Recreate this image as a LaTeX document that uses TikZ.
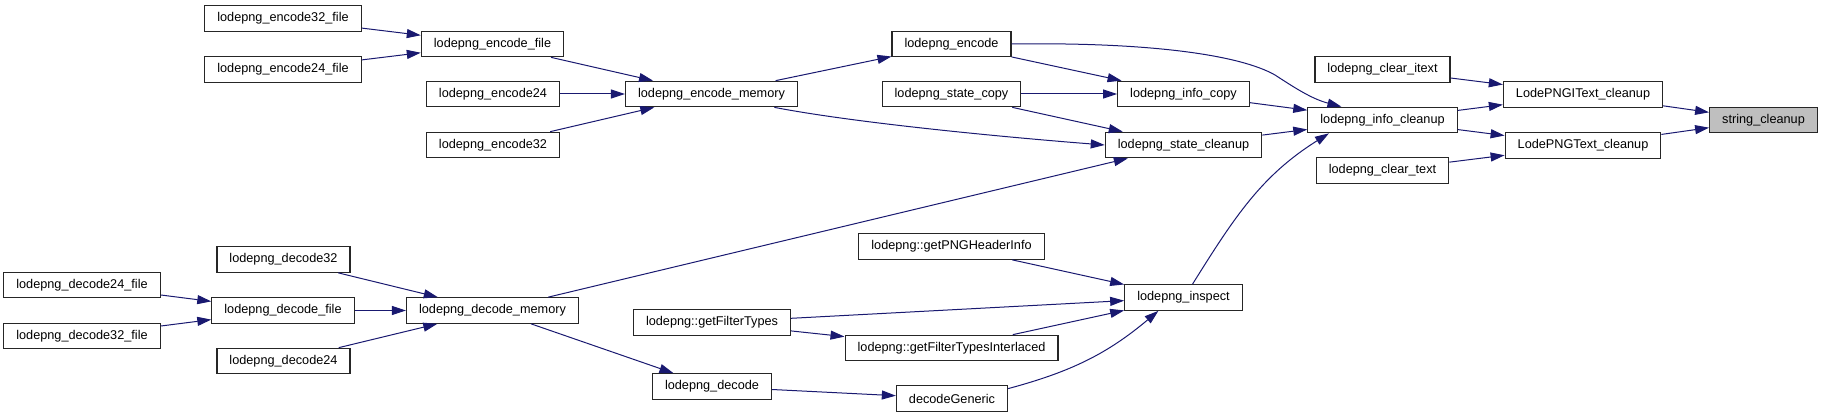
\documentclass[tikz,border=0pt]{standalone}
\usepackage{fontspec}
\setmainfont{Liberation Sans}
\usepackage{tikz}
\usetikzlibrary{
  arrows.meta
}

\definecolor{edgeblue}{HTML}{191970}
\definecolor{hilite}{HTML}{BFBFBF}

\begin{document}
\begin{tikzpicture}[x=0.5pt,y=-0.5pt,
  fn/.style={draw=black!85,line width=0.6pt,fill=white,rectangle,
    minimum height=12.75pt,inner xsep=6.25pt,inner ysep=0pt,
    font=\fontsize{6.35}{7.6}\selectfont},
  edge/.style={draw=edgeblue,line width=0.5pt,
    -{Triangle[length=7pt,width=4.5pt]}}]

  \useasboundingbox (0,0) rectangle (1823,417);

  % encode side
  \node[fn] (e32f)  at (283,18.5)  {lodepng\_encode32\_file};
  \node[fn] (e24f)  at (283,69.5)  {lodepng\_encode24\_file};
  \node[fn] (efile) at (492.5,44)  {lodepng\_encode\_file};
  \node[fn] (e24)   at (493,94)    {lodepng\_encode24};
  \node[fn] (e32)   at (493,145)   {lodepng\_encode32};
  \node[fn] (emem)  at (711.5,94)  {lodepng\_encode\_memory};
  \node[fn] (enc)   at (951.5,44)  {lodepng\_encode};
  \node[fn] (scopy) at (951.5,94)  {lodepng\_state\_copy};

  % cleanup chain
  \node[fn] (icopy)   at (1183.5,94)   {lodepng\_info\_copy};
  \node[fn] (sclean)  at (1183.5,145)  {lodepng\_state\_cleanup};
  \node[fn] (citext)  at (1382.5,69.5) {lodepng\_clear\_itext};
  \node[fn] (iclean)  at (1382.5,120)  {lodepng\_info\_cleanup};
  \node[fn] (ctext)   at (1382.5,170.5) {lodepng\_clear\_text};
  \node[fn] (itclean) at (1583,94.5)   {LodePNGIText\_cleanup};
  \node[fn] (tclean)  at (1583,145.5)  {LodePNGText\_cleanup};
  \node[fn,fill=hilite] (strclean) at (1763.5,120) {string\_cleanup};

  % decode side
  \node[fn] (d32)      at (283.5,259.5) {lodepng\_decode32};
  \node[fn] (d24f)     at (82,285)      {lodepng\_decode24\_file};
  \node[fn] (dfile)    at (283,310.5)   {lodepng\_decode\_file};
  \node[fn] (d32f)     at (82,336)      {lodepng\_decode32\_file};
  \node[fn] (d24)      at (283.5,361)   {lodepng\_decode24};
  \node[fn] (dmem)     at (492.5,310.5) {lodepng\_decode\_memory};
  \node[fn] (hdr)      at (951.5,246.5) {lodepng::getPNGHeaderInfo};
  \node[fn] (insp)     at (1183.5,297.5) {lodepng\_inspect};
  \node[fn] (ftypes)   at (712,322.5)   {lodepng::getFilterTypes};
  \node[fn] (ftypesil) at (951.5,348)   {lodepng::getFilterTypesInterlaced};
  \node[fn] (dec)      at (712,386.5)   {lodepng\_decode};
  \node[fn] (dgen)     at (952,398.5)   {decodeGeneric};

  % calls on the encode side
  \draw[edge] (e32f) -- (efile);
  \draw[edge] (e24f) -- (efile);
  \draw[edge] (efile) -- (emem);
  \draw[edge] (e24) -- (emem);
  \draw[edge] (e32) -- (emem);
  \draw[edge] (emem) -- (enc);
  \draw[edge] (emem.-12) .. controls (850,122) and (990,136) .. (sclean.west);
  \draw[edge] (enc) -- (icopy);
  \draw[edge] (enc.east) .. controls (1150,42) and (1240,55)
    .. (1275,75) .. controls (1295,88) and (1312,99) .. (iclean.162);
  \draw[edge] (scopy) -- (icopy);
  \draw[edge] (scopy) -- (sclean);
  \draw[edge] (icopy) -- (iclean);
  \draw[edge] (sclean) -- (iclean);

  % towards string_cleanup
  \draw[edge] (citext) -- (itclean);
  \draw[edge] (iclean) -- (itclean);
  \draw[edge] (iclean) -- (tclean);
  \draw[edge] (ctext) -- (tclean);
  \draw[edge] (itclean) -- (strclean);
  \draw[edge] (tclean) -- (strclean);

  % calls on the decode side
  \draw[edge] (d24f) -- (dfile);
  \draw[edge] (d32f) -- (dfile);
  \draw[edge] (dfile) -- (dmem);
  \draw[edge] (d32) -- (dmem);
  \draw[edge] (d24) -- (dmem);
  \draw[edge] (dmem) -- (sclean);
  \draw[edge] (dmem) -- (dec);
  \draw[edge] (dec) -- (dgen);
  \draw[edge] (dgen.10) to[out=15,in=220] (insp.208);
  \draw[edge] (hdr) -- (insp);
  \draw[edge] (ftypes) -- (insp);
  \draw[edge] (ftypes) -- (ftypesil);
  \draw[edge] (ftypesil) -- (insp);
  \draw[edge] (insp.56) to[out=58,in=212] (iclean.194);

\end{tikzpicture}
\end{document}
